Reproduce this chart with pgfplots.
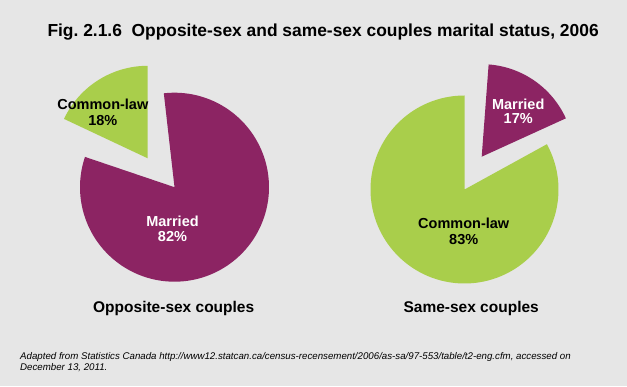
\documentclass[border=0pt]{standalone}
\usepackage{fontspec}
\setmainfont{Liberation Sans}
\usepackage{pgfplots}
\pgfplotsset{compat=1.18}
\definecolor{bg}{HTML}{E6E6E6}
\definecolor{cpurple}{HTML}{8C2463}
\definecolor{cgreen}{HTML}{A9CE4B}
\frenchspacing
\begin{document}
\begin{tikzpicture}[x=1pt,y=1pt]
\fill[bg] (0,0) rectangle (627,386);
\begin{axis}[
  at={(0,0)}, anchor=south west,
  width=627pt, height=386pt, scale only axis,
  xmin=0, xmax=627, ymin=0, ymax=386,
  axis lines=none, clip=false,
  samples=180, variable=\t,
]
% Opposite-sex couples: Married 82, Common-law 18
\addplot[fill=cpurple, draw=none, domain=161.3:161.3+82*3.6]
  ({174.5+94.5*cos(t)}, {198.8+94.5*sin(t)}) -- (axis cs:174.5,198.8) -- cycle;
\addplot[fill=cgreen, draw=none, domain=90:90+18*3.6]
  ({147.7+92.5*cos(t)}, {227.7+92.5*sin(t)}) -- (axis cs:147.7,227.7) -- cycle;
% Same-sex couples: Common-law 83, Married 17
\addplot[fill=cgreen, draw=none, domain=90:90+83*3.6]
  ({464.5+94*cos(t)}, {196.5+94*sin(t)}) -- (axis cs:464.5,196.5) -- cycle;
\addplot[fill=cpurple, draw=none, domain=24.5:24.5+17*3.6]
  ({481.7+92.5*cos(t)}, {229.3+92.5*sin(t)}) -- (axis cs:481.7,229.3) -- cycle;

\node[anchor=base, font=\bfseries\fontsize{14.5}{16}\selectfont] at (axis cs:102.8,276) {Common-law};
\node[anchor=base, font=\bfseries\fontsize{14.5}{16}\selectfont] at (axis cs:102.8,260) {18\%};
\node[anchor=base, text=white, font=\bfseries\fontsize{14.5}{16}\selectfont] at (axis cs:172.5,159.3) {Married};
\node[anchor=base, text=white, font=\bfseries\fontsize{14.5}{16}\selectfont] at (axis cs:172.5,144.3) {82\%};
\node[anchor=base, text=white, font=\bfseries\fontsize{14.5}{16}\selectfont] at (axis cs:518.2,276.7) {Married};
\node[anchor=base, text=white, font=\bfseries\fontsize{14.5}{16}\selectfont] at (axis cs:518.2,262.7) {17\%};
\node[anchor=base, font=\bfseries\fontsize{14.5}{16}\selectfont] at (axis cs:463.7,157.7) {Common-law};
\node[anchor=base, font=\bfseries\fontsize{14.5}{16}\selectfont] at (axis cs:463.7,141.7) {83\%};

\node[anchor=base, font=\bfseries\fontsize{15.5}{18}\selectfont] at (axis cs:173.7,73.7) {Opposite-sex couples};
\node[anchor=base, font=\bfseries\fontsize{15.5}{18}\selectfont] at (axis cs:471.2,73.7) {Same-sex couples};

\node[anchor=base west, inner sep=0pt, font=\bfseries\fontsize{17.4}{20}\selectfont] at (axis cs:47.3,349.3) {Fig. 2.1.6\ \ Opposite-sex and same-sex couples marital status, 2006};

\node[anchor=base west, inner sep=0pt, font=\itshape\fontsize{9.7}{11}\selectfont] at (axis cs:20,27) {Adapted from Statistics Canada http://www12.statcan.ca/census-recensement/2006/as-sa/97-553/table/t2-eng.cfm, accessed on};
\node[anchor=base west, inner sep=0pt, font=\itshape\fontsize{9.7}{11}\selectfont] at (axis cs:20,16) {December 13, 2011.};
\end{axis}
\end{tikzpicture}
\end{document}
